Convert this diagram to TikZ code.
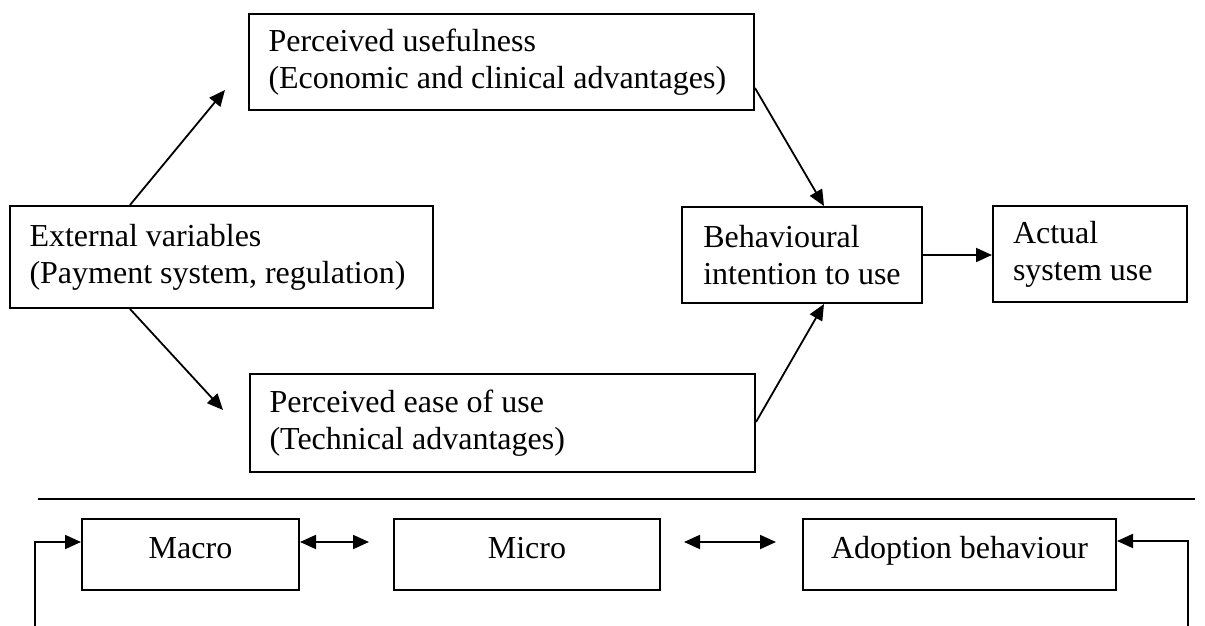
\documentclass[tikz,border=0pt]{standalone}
\usepackage{fontspec}
\setmainfont{Liberation Serif}
\usetikzlibrary{arrows.meta,calc}
\tikzset{
  tipT/.tip={Triangle[length=8pt,width=7pt]},
  box/.style={draw, line width=1pt, inner sep=0pt, align=flush left, font=\fontsize{16}{18.4}\selectfont},
  cbox/.style={draw, line width=1pt, inner sep=0pt, align=center, font=\fontsize{16}{18.4}\selectfont, minimum height=35.5pt, text height=11.5pt, text depth=7.5pt},
  conn/.style={line width=0.9pt, -tipT},
  dconn/.style={line width=0.9pt, tipT-tipT},
  sep/.style={line width=1pt}
}
\begin{document}
\begin{tikzpicture}[x=0.5pt,y=-0.5pt]
\useasboundingbox (0,0) rectangle (1205,626);
% top boxes
\node[box, minimum width=211.5pt, minimum height=51pt, text width=192pt] (ext) at (221.5,257) {External variables\\(Payment system, regulation)};
\node[box, minimum width=252.5pt, minimum height=48pt, text width=233pt] (pu) at (501.5,62) {Perceived usefulness\\(Economic and clinical advantages)};
\node[box, minimum width=252.5pt, minimum height=49pt, text width=233pt] (pe) at (502.5,423) {Perceived ease of use\\(Technical advantages)};
\node[box, minimum width=120pt, minimum height=48pt] (beh) at (802,255) {Behavioural\\intention to use};
\node[box, minimum width=97pt, minimum height=48pt, text width=77pt] (act) at (1090,254) {Actual\\system use};
% top connectors
\draw[conn] ($(ext.north west)+(121,0)$) -- ($(pu.west)+(-23,28)$);
\draw[conn] ($(ext.south west)+(121,0)$) -- ($(pe.west)+(-26,-13)$);
\draw[conn] ($(pu.east)+(0,26)$) -- ($(beh.north west)+(143,0)$);
\draw[conn] ($(pe.east)+(0,-1)$) -- ($(beh.south west)+(143,0)$);
\draw[conn] (beh.east) -- (beh.east -| act.west);
% separator
\coordinate (s1) at (38,499);
\coordinate (s2) at (1195,499);
\draw[sep] (s1) -- (s2);
% bottom boxes
\node[cbox, minimum width=108.5pt] (macro) at (190.5,554.5) {Macro};
\node[cbox, minimum width=133pt] (micro) at (527,554.5) {Micro};
\node[cbox, minimum width=156.5pt] (adopt) at (959.5,554.5) {Adoption behaviour};
% bottom connectors
\coordinate (m1) at ($(macro.north east)+(69,24)$);
\draw[dconn] ($(macro.north east)+(0,24)$) -- (m1);
\coordinate (m2) at ($(micro.north east)+(23,24)$);
\coordinate (m3) at ($(adopt.north west)+(-26,24)$);
\draw[dconn] (m2) -- (m3);
\coordinate (lb) at (35,630);
\coordinate (rb) at (1188,630);
\draw[conn] (lb) |- ($(macro.north west)+(0,24)$);
\draw[conn] (rb) |- ($(adopt.north east)+(0,23)$);
\end{tikzpicture}
\end{document}
